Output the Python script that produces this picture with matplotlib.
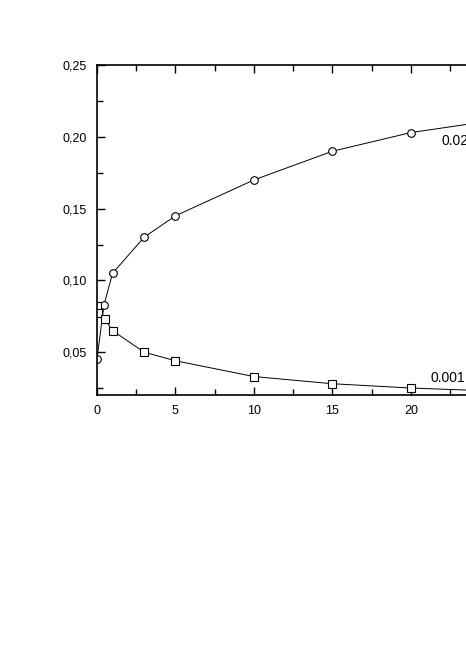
import matplotlib
matplotlib.use('Agg')
import matplotlib.pyplot as plt
from matplotlib.ticker import MultipleLocator, FuncFormatter

plt.rcParams['font.family'] = ['Liberation Sans', 'DejaVu Sans']

# kurva lingkaran (label 0.02)
x_circ = [0, 0.45, 1, 3, 5, 10, 15, 20, 25]
y_circ = [0.045, 0.083, 0.105, 0.130, 0.145, 0.170, 0.190, 0.203, 0.211]

# kurva kotak (label 0.001)
x_sq = [0, 0.1, 0.5, 1, 3, 5, 10, 15, 20, 25]
y_sq = [0.082, 0.077, 0.073, 0.065, 0.050, 0.044, 0.033, 0.028, 0.025, 0.023]

fig = plt.figure(figsize=(4.66, 6.71), dpi=100)
ax = fig.add_axes([0.208, 0.411, 1.011, 0.492])

ax.plot(x_circ, y_circ, color='black', lw=0.7, marker='o', ms=5.5,
        mfc='white', mec='black', mew=0.8)
ax.plot(x_sq, y_sq, color='black', lw=0.7, marker='s', ms=5.5,
        mfc='white', mec='black', mew=0.8)

ax.text(21.97, 0.197, '0.02', fontsize=10, va='center', ha='left')
ax.text(21.27, 0.032, '0.001', fontsize=10, va='center', ha='left')

ax.set_xlim(0, 30)
ax.set_ylim(0.02, 0.25)
ax.xaxis.set_major_locator(MultipleLocator(5))
ax.xaxis.set_minor_locator(MultipleLocator(2.5))
ax.xaxis.set_major_formatter(FuncFormatter(lambda v, p: f'{v:g}' if v <= 20 else ''))
ax.yaxis.set_major_locator(MultipleLocator(0.05))
ax.yaxis.set_minor_locator(MultipleLocator(0.025))
ax.yaxis.set_major_formatter(FuncFormatter(lambda v, p: f'{v:.2f}'.replace('.', ',')))

ax.tick_params(which='both', direction='in', top=True, right=False, labelsize=9, width=1)
ax.tick_params(which='major', length=6)
ax.tick_params(which='minor', length=4)
ax.tick_params(axis='x', pad=7)
ax.tick_params(axis='y', pad=7)
for s in ['left', 'bottom', 'top']:
    ax.spines[s].set_linewidth(1.2)
ax.spines['right'].set_visible(False)

plt.savefig('out.png', dpi=100)
